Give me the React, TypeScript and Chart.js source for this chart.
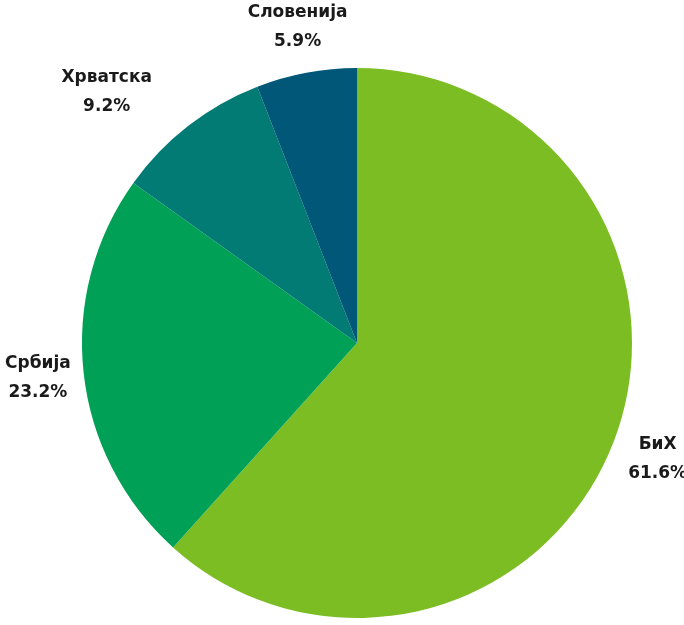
import React, { useEffect, useRef } from 'react';
import { Chart, registerables } from 'chart.js';

Chart.register(...registerables);

const countries = ['БиХ', 'Србија', 'Хрватска', 'Словенија'];
const shares = [61.6, 23.2, 9.2, 5.9];
const sliceColors = ['#7bbd23', '#00a156', '#017b74', '#005778'];

// distance of each label's centre beyond the pie's edge, and a small angular nudge (degrees)
const labelOffsets = [47, 46, 80, 47];
const labelNudges = [0, 0, -7, 0];

const outsideLabels = {
    id: 'outsideLabels',
    afterDatasetsDraw(chart: any) {
        const ctx = chart.ctx;
        const meta = chart.getDatasetMeta(0);
        const values = chart.data.datasets[0].data as number[];
        ctx.save();
        ctx.font = 'bold 17px "DejaVu Sans", sans-serif';
        ctx.fillStyle = '#1a1a1a';
        ctx.textAlign = 'center';
        ctx.textBaseline = 'middle';
        meta.data.forEach((arc: any, i: number) => {
            const { x, y, startAngle, endAngle, outerRadius } = arc.getProps(
                ['x', 'y', 'startAngle', 'endAngle', 'outerRadius'], true);
            const mid = (startAngle + endAngle) / 2 + labelNudges[i] * Math.PI / 180;
            const r = outerRadius + labelOffsets[i];
            const lx = x + Math.cos(mid) * r;
            const ly = y + Math.sin(mid) * r;
            ctx.fillText(chart.data.labels[i], lx, ly - 14);
            ctx.fillText(values[i].toFixed(1) + '%', lx, ly + 15);
        });
        ctx.restore();
    },
};

const ShareChart: React.FC = () => {
    const chartRef = useRef<HTMLCanvasElement>(null);
    const chartInstance = useRef<Chart | null>(null);

    useEffect(() => {
        document.body.style.margin = '0';
        if (chartRef.current) {
            if (chartInstance.current) {
                chartInstance.current.destroy();
            }
            chartInstance.current = new Chart(chartRef.current, {
                type: 'pie',
                data: {
                    labels: countries,
                    datasets: [{
                        data: shares,
                        backgroundColor: sliceColors,
                        borderWidth: 0,
                    }]
                },
                options: {
                    animation: false,
                    responsive: true,
                    maintainAspectRatio: false,
                    layout: {
                        padding: { top: 68, bottom: 7, left: 82, right: 52 },
                    },
                    plugins: {
                        legend: { display: false },
                        tooltip: { enabled: false },
                    },
                },
                plugins: [outsideLabels],
            });
        }
        return () => {
            if (chartInstance.current) {
                chartInstance.current.destroy();
                chartInstance.current = null;
            }
        };
    }, []);

    return <canvas ref={chartRef}></canvas>;
};

export default function App() {
    return (
        <div style={{ position: 'relative', width: 684, height: 625, background: '#ffffff' }}>
            <ShareChart />
        </div>
    );
}
